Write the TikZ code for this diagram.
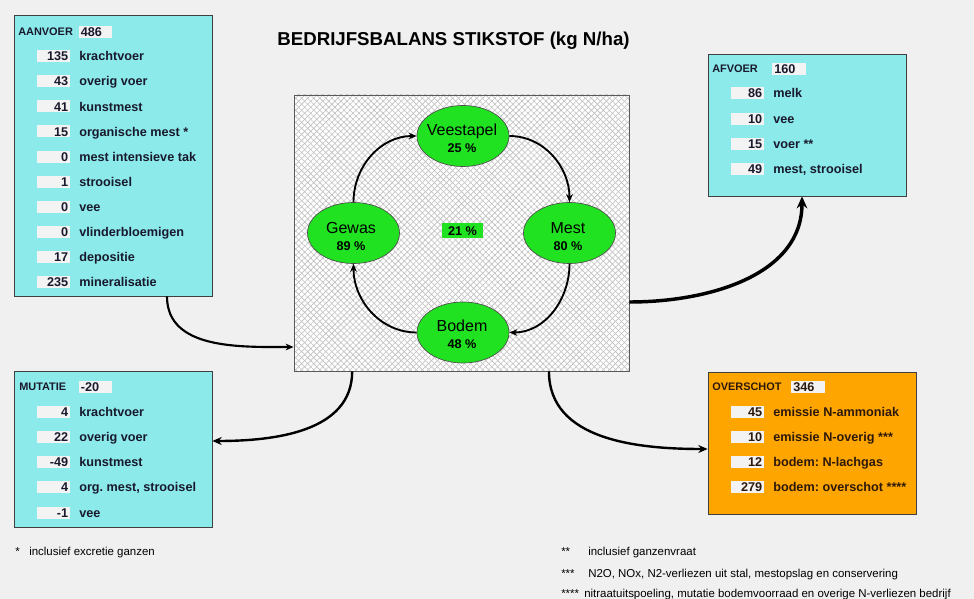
\documentclass[tikz,border=0pt]{standalone}
\usepackage{fontspec}
\setmainfont{Liberation Sans}
\usetikzlibrary{arrows.meta,shapes.geometric,patterns.meta}
\definecolor{bg}{HTML}{F0F0F0}
\definecolor{cyanbox}{HTML}{8CEAEA}
\definecolor{orangebox}{HTML}{FFA500}
\definecolor{numfill}{HTML}{F3F3F3}
\definecolor{ngreen}{RGB}{32,226,32}
\definecolor{boxtext}{RGB}{25,25,45}
\definecolor{orangetext}{RGB}{45,25,10}
\frenchspacing
\newcommand\brow[5]{%
  \node[numbox] (#1n) at (#2+16.5,#3) {#4};
  \node[rowlbl] (#1t) at (#2+42,#3) {#5};}
\tikzset{
  box/.style={draw=black!75, line width=0.6pt, inner sep=0pt},
  numbox/.style={fill=numfill, text width=22pt, align=right, minimum height=9pt,
    inner xsep=1.4pt, inner ysep=0pt, text height=6.8pt, text depth=0pt,
    font=\bfseries\fontsize{9.5}{10}\selectfont},
  valbox/.style={numbox, align=left},
  rowlbl/.style={anchor=west, inner sep=0pt, text height=6.8pt, text depth=0pt,
    font=\bfseries\fontsize{9.5}{10}\selectfont},
  hdr/.style={anchor=west, inner sep=0pt, text height=5.9pt, text depth=0pt,
    font=\bfseries\fontsize{8.2}{9}\selectfont},
  ell/.style={ellipse, draw=black!70, line width=0.5pt, fill=ngreen,
    minimum width=69pt, minimum height=45.75pt, inner sep=0pt},
  ename/.style={inner sep=0pt, text height=8.6pt, text depth=0pt, font=\fontsize{12}{14}\selectfont},
  epct/.style={inner sep=0pt, text height=6.8pt, text depth=0pt, font=\bfseries\fontsize{9.5}{10}\selectfont},
  cyc/.style={-{Stealth[length=6pt,width=5pt]}, line width=1.4pt},
  flowA/.style={-{Stealth[length=6pt,width=5pt]}, line width=1.6pt},
  flowB/.style={-{Stealth[length=9pt,width=8pt]}, line width=2.6pt},
  flowC/.style={-{Stealth[length=7pt,width=6pt]}, line width=1.8pt},
  fn/.style={anchor=west, inner sep=0pt, text height=6.2pt, text depth=0pt, font=\fontsize{8.6}{10}\selectfont},
}
\begin{document}
\begin{tikzpicture}[x=0.75pt,y=-0.75pt]
\fill[bg] (0,0) rectangle (974,599);
\useasboundingbox (0,0) rectangle (974,599);

% title
\node[inner sep=0pt, font=\bfseries\fontsize{14}{16}\selectfont] (title) at (453.5,41) {BEDRIJFSBALANS STIKSTOF (kg N/ha)};

% boxes
\node[box, fill=cyanbox, minimum width=148.5pt, minimum height=210.75pt] (aan) at (113,155.5) {};
\node[box, fill=cyanbox, minimum width=148.5pt, minimum height=106.5pt] (afv) at (807,125) {};
\node[box, fill=cyanbox, minimum width=148.5pt, minimum height=117pt] (mut) at (113,449) {};
\node[box, fill=orangebox, minimum width=156pt, minimum height=106.5pt] (ovs) at (812,443) {};
\node[box, draw=black!65, minimum width=251.25pt, minimum height=207pt,
  preaction={fill=white},
  preaction={pattern={Lines[angle=45,distance=3.2pt,line width=0.45pt]}, pattern color=gray!50},
  preaction={pattern={Lines[angle=-45,distance=3.2pt,line width=0.45pt]}, pattern color=gray!50}] (ctr) at (461.5,233) {};

% AANVOER
\begin{scope}[every node/.append style={text=boxtext}]
\node[hdr] (aanh) at (18,32) {AANVOER};
\node[valbox] (aanv) at (95.5,32) {486};
\brow{a1}{37}{56}{135}{krachtvoer}
\brow{a2}{37}{81}{43}{overig voer}
\brow{a3}{37}{106.5}{41}{kunstmest}
\brow{a4}{37}{131.5}{15}{organische mest *}
\brow{a5}{37}{157}{0}{mest intensieve tak}
\brow{a6}{37}{182}{1}{strooisel}
\brow{a7}{37}{207}{0}{vee}
\brow{a8}{37}{232}{0}{vlinderbloemigen}
\brow{a9}{37}{257}{17}{depositie}
\brow{a10}{37}{282}{235}{mineralisatie}
% AFVOER
\node[hdr] (afvh) at (712,69) {AFVOER};
\node[valbox] (afvv) at (789,69) {160};
\brow{b1}{731}{93}{86}{melk}
\brow{b2}{731}{119}{10}{vee}
\brow{b3}{731}{144}{15}{voer **}
\brow{b4}{731}{169}{49}{mest, strooisel}
% MUTATIE
\node[hdr] (muth) at (19,387) {MUTATIE};
\node[valbox] (mutv) at (95.5,387) {-20};
\brow{m1}{37}{412}{4}{krachtvoer}
\brow{m2}{37}{437}{22}{overig voer}
\brow{m3}{37}{462}{-49}{kunstmest}
\brow{m4}{37}{487}{4}{org. mest, strooisel}
\brow{m5}{37}{512.5}{-1}{vee}
\end{scope}
% OVERSCHOT
\begin{scope}[every node/.append style={text=orangetext}]
\node[hdr] (ovsh) at (712,387) {OVERSCHOT};
\node[valbox] (ovsv) at (808,387) {346};
\brow{o1}{731}{412}{45}{emissie N-ammoniak}
\brow{o2}{731}{437}{10}{emissie N-overig ***}
\brow{o3}{731}{462}{12}{bodem: N-lachgas}
\brow{o4}{731}{487}{279}{bodem: overschot ****}
\end{scope}

% cycle
\node[ell] (vee) at (463,136) {};
\node[ename] (veeA) at (462,130) {Veestapel};
\node[epct] (veeB) at (462,148) {25 \%};
\node[ell] (gew) at (353.5,233) {};
\node[ename] (gewA) at (351,228) {Gewas};
\node[epct] (gewB) at (351,246) {89 \%};
\node[ell] (mest) at (569.5,233) {};
\node[ename] (mestA) at (568,228) {Mest};
\node[epct] (mestB) at (568,246) {80 \%};
\node[ell] (bod) at (463,332.5) {};
\node[ename] (bodA) at (462,326) {Bodem};
\node[epct] (bodB) at (462,344) {48 \%};
\node[fill=ngreen, minimum width=30.75pt, minimum height=11.25pt, inner sep=0pt,
  text height=6.8pt, text depth=0pt, font=\bfseries\fontsize{9.5}{10}\selectfont] (tot) at (462.5,230.5) {21 \%};

\draw[cyc] (gew.north) to[out=90,in=180] (vee.west);
\draw[cyc] (vee.east) to[out=0,in=90] (mest.north);
\draw[cyc] (mest.south) to[out=-90,in=0] (bod.east);
\draw[cyc] (bod.west) to[out=180,in=-90] (gew.south);

% flows
\draw[flowA] ([xshift=40.5pt]aan.south) to[out=-90,in=180] ([yshift=-85.5pt]ctr.west);
\draw[flowB] ([yshift=-51.75pt]ctr.east) to[out=0,in=-90] ([xshift=-3.75pt]afv.south);
\draw[flowC] ([xshift=-82pt]ctr.south) to[out=-90,in=0] ([yshift=6pt]mut.east);
\draw[flowC] ([xshift=65.6pt]ctr.south) to[out=-90,in=180] ([yshift=-4.5pt]ovs.west);

% footnotes
\node[fn] (f1s) at (15,551) {*};
\node[fn] (f1t) at (29,551) {inclusief excretie ganzen};
\node[fn] (f2s) at (561,551) {**};
\node[fn] (f2t) at (588,551) {inclusief ganzenvraat};
\node[fn] (f3s) at (561,573) {***};
\node[fn] (f3t) at (588,573) {N2O, NOx, N2-verliezen uit stal, mestopslag en conservering};
\node[fn] (f4s) at (561,593) {****};
\node[fn] (f4t) at (584,593) {nitraatuitspoeling, mutatie bodemvoorraad en overige N-verliezen bedrijf};
\end{tikzpicture}
\end{document}
